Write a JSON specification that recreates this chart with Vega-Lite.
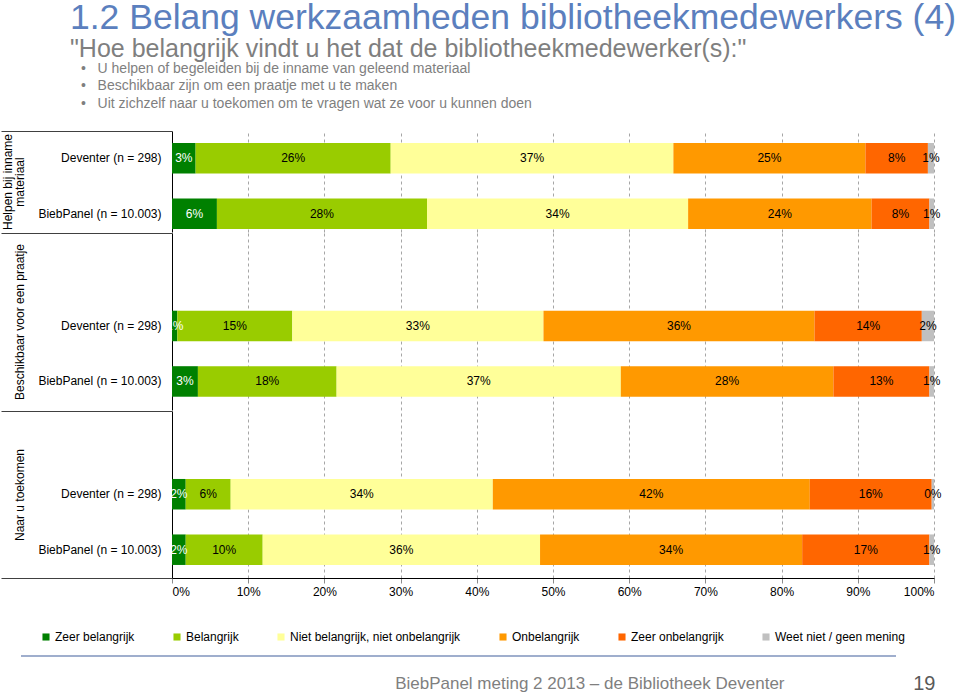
{
  "$schema": "https://vega.github.io/schema/vega-lite/v6.json",
  "padding": {"left": 0, "top": 1, "right": 0, "bottom": 0},
  "background": "white",
  "config": {"font": "Liberation Sans", "view": {"stroke": null}},
  "title": {
    "text": "1.2 Belang werkzaamheden bibliotheekmedewerkers (4)",
    "subtitle": "\"Hoe belangrijk vindt u het dat de bibliotheekmedewerker(s):\"",
    "anchor": "start", "frame": "group", "dx": -102, "offset": 0,
    "font": "Liberation Sans", "fontSize": 35.5, "fontWeight": "normal", "color": "#5b7fbe",
    "subtitleFont": "Liberation Sans", "subtitleFontSize": 25, "subtitleColor": "#7f7f7f", "subtitlePadding": 0
  },
  "data": {"values": [
    {"g": "g1", "r": "Deventer (n = 298)", "c": "Zeer belangrijk", "k": 1, "v": 0.031},
    {"g": "g1", "r": "Deventer (n = 298)", "c": "Belangrijk", "k": 2, "v": 0.256},
    {"g": "g1", "r": "Deventer (n = 298)", "c": "Niet belangrijk, niet onbelangrijk", "k": 3, "v": 0.371},
    {"g": "g1", "r": "Deventer (n = 298)", "c": "Onbelangrijk", "k": 4, "v": 0.252},
    {"g": "g1", "r": "Deventer (n = 298)", "c": "Zeer onbelangrijk", "k": 5, "v": 0.082},
    {"g": "g1", "r": "Deventer (n = 298)", "c": "Weet niet / geen mening", "k": 6, "v": 0.008},
    {"g": "g1", "r": "BiebPanel (n = 10.003)", "c": "Zeer belangrijk", "k": 1, "v": 0.059},
    {"g": "g1", "r": "BiebPanel (n = 10.003)", "c": "Belangrijk", "k": 2, "v": 0.276},
    {"g": "g1", "r": "BiebPanel (n = 10.003)", "c": "Niet belangrijk, niet onbelangrijk", "k": 3, "v": 0.343},
    {"g": "g1", "r": "BiebPanel (n = 10.003)", "c": "Onbelangrijk", "k": 4, "v": 0.241},
    {"g": "g1", "r": "BiebPanel (n = 10.003)", "c": "Zeer onbelangrijk", "k": 5, "v": 0.076},
    {"g": "g1", "r": "BiebPanel (n = 10.003)", "c": "Weet niet / geen mening", "k": 6, "v": 0.006},
    {"g": "g2", "r": "Deventer (n = 298)", "c": "Zeer belangrijk", "k": 1, "v": 0.007},
    {"g": "g2", "r": "Deventer (n = 298)", "c": "Belangrijk", "k": 2, "v": 0.151},
    {"g": "g2", "r": "Deventer (n = 298)", "c": "Niet belangrijk, niet onbelangrijk", "k": 3, "v": 0.330},
    {"g": "g2", "r": "Deventer (n = 298)", "c": "Onbelangrijk", "k": 4, "v": 0.356},
    {"g": "g2", "r": "Deventer (n = 298)", "c": "Zeer onbelangrijk", "k": 5, "v": 0.141},
    {"g": "g2", "r": "Deventer (n = 298)", "c": "Weet niet / geen mening", "k": 6, "v": 0.016},
    {"g": "g2", "r": "BiebPanel (n = 10.003)", "c": "Zeer belangrijk", "k": 1, "v": 0.034},
    {"g": "g2", "r": "BiebPanel (n = 10.003)", "c": "Belangrijk", "k": 2, "v": 0.182},
    {"g": "g2", "r": "BiebPanel (n = 10.003)", "c": "Niet belangrijk, niet onbelangrijk", "k": 3, "v": 0.373},
    {"g": "g2", "r": "BiebPanel (n = 10.003)", "c": "Onbelangrijk", "k": 4, "v": 0.279},
    {"g": "g2", "r": "BiebPanel (n = 10.003)", "c": "Zeer onbelangrijk", "k": 5, "v": 0.126},
    {"g": "g2", "r": "BiebPanel (n = 10.003)", "c": "Weet niet / geen mening", "k": 6, "v": 0.006},
    {"g": "g3", "r": "Deventer (n = 298)", "c": "Zeer belangrijk", "k": 1, "v": 0.018},
    {"g": "g3", "r": "Deventer (n = 298)", "c": "Belangrijk", "k": 2, "v": 0.059},
    {"g": "g3", "r": "Deventer (n = 298)", "c": "Niet belangrijk, niet onbelangrijk", "k": 3, "v": 0.344},
    {"g": "g3", "r": "Deventer (n = 298)", "c": "Onbelangrijk", "k": 4, "v": 0.416},
    {"g": "g3", "r": "Deventer (n = 298)", "c": "Zeer onbelangrijk", "k": 5, "v": 0.160},
    {"g": "g3", "r": "Deventer (n = 298)", "c": "Weet niet / geen mening", "k": 6, "v": 0.003},
    {"g": "g3", "r": "BiebPanel (n = 10.003)", "c": "Zeer belangrijk", "k": 1, "v": 0.018},
    {"g": "g3", "r": "BiebPanel (n = 10.003)", "c": "Belangrijk", "k": 2, "v": 0.101},
    {"g": "g3", "r": "BiebPanel (n = 10.003)", "c": "Niet belangrijk, niet onbelangrijk", "k": 3, "v": 0.364},
    {"g": "g3", "r": "BiebPanel (n = 10.003)", "c": "Onbelangrijk", "k": 4, "v": 0.344},
    {"g": "g3", "r": "BiebPanel (n = 10.003)", "c": "Zeer onbelangrijk", "k": 5, "v": 0.167},
    {"g": "g3", "r": "BiebPanel (n = 10.003)", "c": "Weet niet / geen mening", "k": 6, "v": 0.006}
  ]},
  "spacing": 0,
  "vconcat": [
    {
      "width": 762, "height": 101,
      "title": {
        "text": ["•\u00a0\u00a0\u00a0U helpen of begeleiden bij de inname van geleend materiaal", "•\u00a0\u00a0\u00a0Beschikbaar zijn om een praatje met u te maken", "•\u00a0\u00a0\u00a0Uit zichzelf naar u toekomen om te vragen wat ze voor u kunnen doen"],
        "anchor": "start", "frame": "group", "dx": -91, "offset": 20,
        "fontSize": 14, "fontWeight": "normal", "color": "#7f7f7f", "lineHeight": 17.5
      },
      "transform": [
        {"filter": "datum.g === 'g1'"},
        {"stack": "v", "groupby": ["r"], "sort": [{"field": "k", "order": "ascending"}], "offset": "normalize", "as": ["x0", "x1"]},
        {"calculate": "(datum.x0 + datum.x1) / 2", "as": "xm"}
      ],
      "resolve": {"axis": {"y": "independent"}},
      "layer": [
        {
          "mark": {"type": "bar"},
          "encoding": {
            "y": {"field": "r", "type": "nominal", "scale": {"domain": ["Deventer (n = 298)", "BiebPanel (n = 10.003)"], "paddingInner": 0.45, "paddingOuter": 0.135, "align": 0.8},
              "axis": {"orient": "left", "title": ["Helpen bij inname", "materiaal"], "titleFontSize": 12, "titleFontWeight": "normal", "titleColor": "black", "titlePadding": 11, "titleLineHeight": 12, "labelFontSize": 12, "labelColor": "black", "labelPadding": 11, "ticks": false, "domainColor": "black"}},
            "x": {"field": "x0", "type": "quantitative", "scale": {"domain": [0, 1]},
              "axis": {"orient": "bottom", "labels": false, "ticks": false, "domain": false, "grid": true, "gridDash": [3, 3], "gridColor": "#a6a6a6", "values": [0.1, 0.2, 0.3, 0.4, 0.5, 0.6, 0.7, 0.8, 0.9, 1], "title": null}},
            "x2": {"field": "x1"},
            "color": {"field": "c", "type": "nominal",
              "scale": {"domain": ["Zeer belangrijk", "Belangrijk", "Niet belangrijk, niet onbelangrijk", "Onbelangrijk", "Zeer onbelangrijk", "Weet niet / geen mening"], "range": ["#008000", "#99cc00", "#ffff99", "#ff9900", "#ff6600", "#c0c0c0"]},
              "legend": {"orient": "none", "legendX": -132, "legendY": 500, "direction": "horizontal", "title": null, "symbolType": "square", "symbolSize": 50, "symbolStrokeWidth": 0, "labelFontSize": 12, "labelColor": "black", "labelLimit": 400, "columnPadding": 36, "labelOffset": 3}}
          }
        },
        {
          "mark": {"type": "text", "fontSize": 12},
          "encoding": {
            "y": {"field": "r", "type": "nominal",
              "axis": {"orient": "left", "values": ["Deventer (n = 298)"], "labels": false, "domain": false, "grid": false, "title": null, "ticks": true, "tickSize": 171, "tickColor": "#404040", "tickOffset": -27.25}},
            "x": {"field": "xm", "type": "quantitative"},
            "text": {"field": "v", "type": "quantitative", "format": ".0%"},
            "color": {"condition": {"test": "datum.k === 1", "value": "white"}, "value": "black"}
          }
        }
      ]
    },
    {
      "width": 762, "height": 177,
      "transform": [
        {"filter": "datum.g === 'g2'"},
        {"stack": "v", "groupby": ["r"], "sort": [{"field": "k", "order": "ascending"}], "offset": "normalize", "as": ["x0", "x1"]},
        {"calculate": "(datum.x0 + datum.x1) / 2", "as": "xm"}
      ],
      "resolve": {"axis": {"y": "independent"}},
      "layer": [
        {
          "mark": {"type": "bar"},
          "encoding": {
            "y": {"field": "r", "type": "nominal", "scale": {"domain": ["Deventer (n = 298)", "BiebPanel (n = 10.003)"], "paddingInner": 0.45, "paddingOuter": 0.82, "align": 0.854},
              "axis": {"orient": "left", "title": ["", "Beschikbaar voor een praatje"], "titleFontSize": 12, "titleFontWeight": "normal", "titleColor": "black", "titlePadding": 11, "titleLineHeight": 12, "labelFontSize": 12, "labelColor": "black", "labelPadding": 11, "ticks": false, "domainColor": "black"}},
            "x": {"field": "x0", "type": "quantitative", "scale": {"domain": [0, 1]},
              "axis": {"orient": "bottom", "labels": false, "ticks": false, "domain": false, "grid": true, "gridDash": [3, 3], "gridColor": "#a6a6a6", "values": [0.1, 0.2, 0.3, 0.4, 0.5, 0.6, 0.7, 0.8, 0.9, 1], "title": null}},
            "x2": {"field": "x1"},
            "color": {"field": "c", "type": "nominal",
              "scale": {"domain": ["Zeer belangrijk", "Belangrijk", "Niet belangrijk, niet onbelangrijk", "Onbelangrijk", "Zeer onbelangrijk", "Weet niet / geen mening"], "range": ["#008000", "#99cc00", "#ffff99", "#ff9900", "#ff6600", "#c0c0c0"]},
              "legend": {"orient": "none", "legendX": -132, "legendY": 500, "direction": "horizontal", "title": null, "symbolType": "square", "symbolSize": 50, "symbolStrokeWidth": 0, "labelFontSize": 12, "labelColor": "black", "labelLimit": 400, "columnPadding": 36, "labelOffset": 3}}
          }
        },
        {
          "mark": {"type": "text", "fontSize": 12},
          "encoding": {
            "y": {"field": "r", "type": "nominal",
              "axis": {"orient": "left", "values": ["Deventer (n = 298)"], "labels": false, "domain": false, "grid": false, "title": null, "ticks": true, "tickSize": 171, "tickColor": "#404040", "tickOffset": -92.97}},
            "x": {"field": "xm", "type": "quantitative"},
            "text": {"field": "v", "type": "quantitative", "format": ".0%"},
            "color": {"condition": {"test": "datum.k === 1", "value": "white"}, "value": "black"}
          }
        }
      ]
    },
    {
      "width": 762, "height": 167,
      "transform": [
        {"filter": "datum.g === 'g3'"},
        {"stack": "v", "groupby": ["r"], "sort": [{"field": "k", "order": "ascending"}], "offset": "normalize", "as": ["x0", "x1"]},
        {"calculate": "(datum.x0 + datum.x1) / 2", "as": "xm"}
      ],
      "resolve": {"axis": {"y": "independent"}},
      "layer": [
        {
          "mark": {"type": "bar"},
          "encoding": {
            "y": {"field": "r", "type": "nominal", "scale": {"domain": ["Deventer (n = 298)", "BiebPanel (n = 10.003)"], "paddingInner": 0.45, "paddingOuter": 0.73, "align": 0.839},
              "axis": {"orient": "left", "title": ["", "Naar u toekomen"], "titleFontSize": 12, "titleFontWeight": "normal", "titleColor": "black", "titlePadding": 11, "titleLineHeight": 12, "labelFontSize": 12, "labelColor": "black", "labelPadding": 11, "ticks": false, "domainColor": "black"}},
            "x": {"field": "x0", "type": "quantitative", "scale": {"domain": [0, 1]},
              "axis": {"orient": "bottom", "values": [0, 0.1, 0.2, 0.3, 0.4, 0.5, 0.6, 0.7, 0.8, 0.9, 1], "format": ".0%", "labelFontSize": 12, "labelColor": "black", "labelPadding": 3, "domainColor": "black", "tickColor": "#8c8c8c", "tickSize": 5, "grid": true, "gridDash": [3, 3], "gridColor": "#a6a6a6", "title": null}},
            "x2": {"field": "x1"},
            "color": {"field": "c", "type": "nominal",
              "scale": {"domain": ["Zeer belangrijk", "Belangrijk", "Niet belangrijk, niet onbelangrijk", "Onbelangrijk", "Zeer onbelangrijk", "Weet niet / geen mening"], "range": ["#008000", "#99cc00", "#ffff99", "#ff9900", "#ff6600", "#c0c0c0"]},
              "legend": {"orient": "none", "legendX": -132, "legendY": 500, "direction": "horizontal", "title": null, "symbolType": "square", "symbolSize": 50, "symbolStrokeWidth": 0, "labelFontSize": 12, "labelColor": "black", "labelLimit": 400, "columnPadding": 36, "labelOffset": 3}}
          }
        },
        {
          "mark": {"type": "text", "fontSize": 12},
          "encoding": {
            "y": {"field": "r", "type": "nominal",
              "axis": {"orient": "left", "values": ["Deventer (n = 298)"], "labels": false, "domain": false, "grid": false, "title": null, "ticks": true, "tickSize": 171, "tickColor": "#404040", "tickOffset": -83.23}},
            "x": {"field": "xm", "type": "quantitative"},
            "text": {"field": "v", "type": "quantitative", "format": ".0%"},
            "color": {"condition": {"test": "datum.k === 1", "value": "white"}, "value": "black"}
          }
        },
        {
          "mark": {"type": "point", "opacity": 0},
          "encoding": {
            "y": {"field": "r", "type": "nominal",
              "axis": {"orient": "left", "values": ["BiebPanel (n = 10.003)"], "labels": false, "domain": false, "grid": false, "title": null, "ticks": true, "tickSize": 171, "tickColor": "#404040", "tickOffset": 28.29}},
            "x": {"field": "xm", "type": "quantitative"}
          }
        }
      ]
    },
    {
      "width": 724, "height": 59,
      "data": {"values": [{"part": "footer"}]},
      "mark": {"type": "rule", "color": "#7f93bd", "strokeWidth": 1.5},
      "encoding": {
        "x": {"datum": -0.2086, "type": "quantitative", "scale": {"domain": [0, 1]},
          "axis": {"orient": "bottom", "domain": false, "ticks": false, "labels": false, "grid": false,
            "title": "19", "titleFontSize": 20, "titleFontWeight": "normal", "titleColor": "#595959", "titleX": 763, "titleY": 27, "titleAlign": "right", "titleBaseline": "middle"}},
        "x2": {"datum": 1},
        "y": {"datum": 0, "type": "quantitative", "scale": {"domain": [0, 1]},
          "axis": {"domain": false, "ticks": false, "labels": false, "grid": false,
            "title": "BiebPanel meting 2 2013 – de Bibliotheek Deventer", "titleAngle": 0, "titleFontSize": 17, "titleFontWeight": "normal", "titleColor": "#7f7f7f", "titleX": 612, "titleY": 86, "titleAlign": "right", "titleBaseline": "middle"}}
      }
    }
  ]
}
